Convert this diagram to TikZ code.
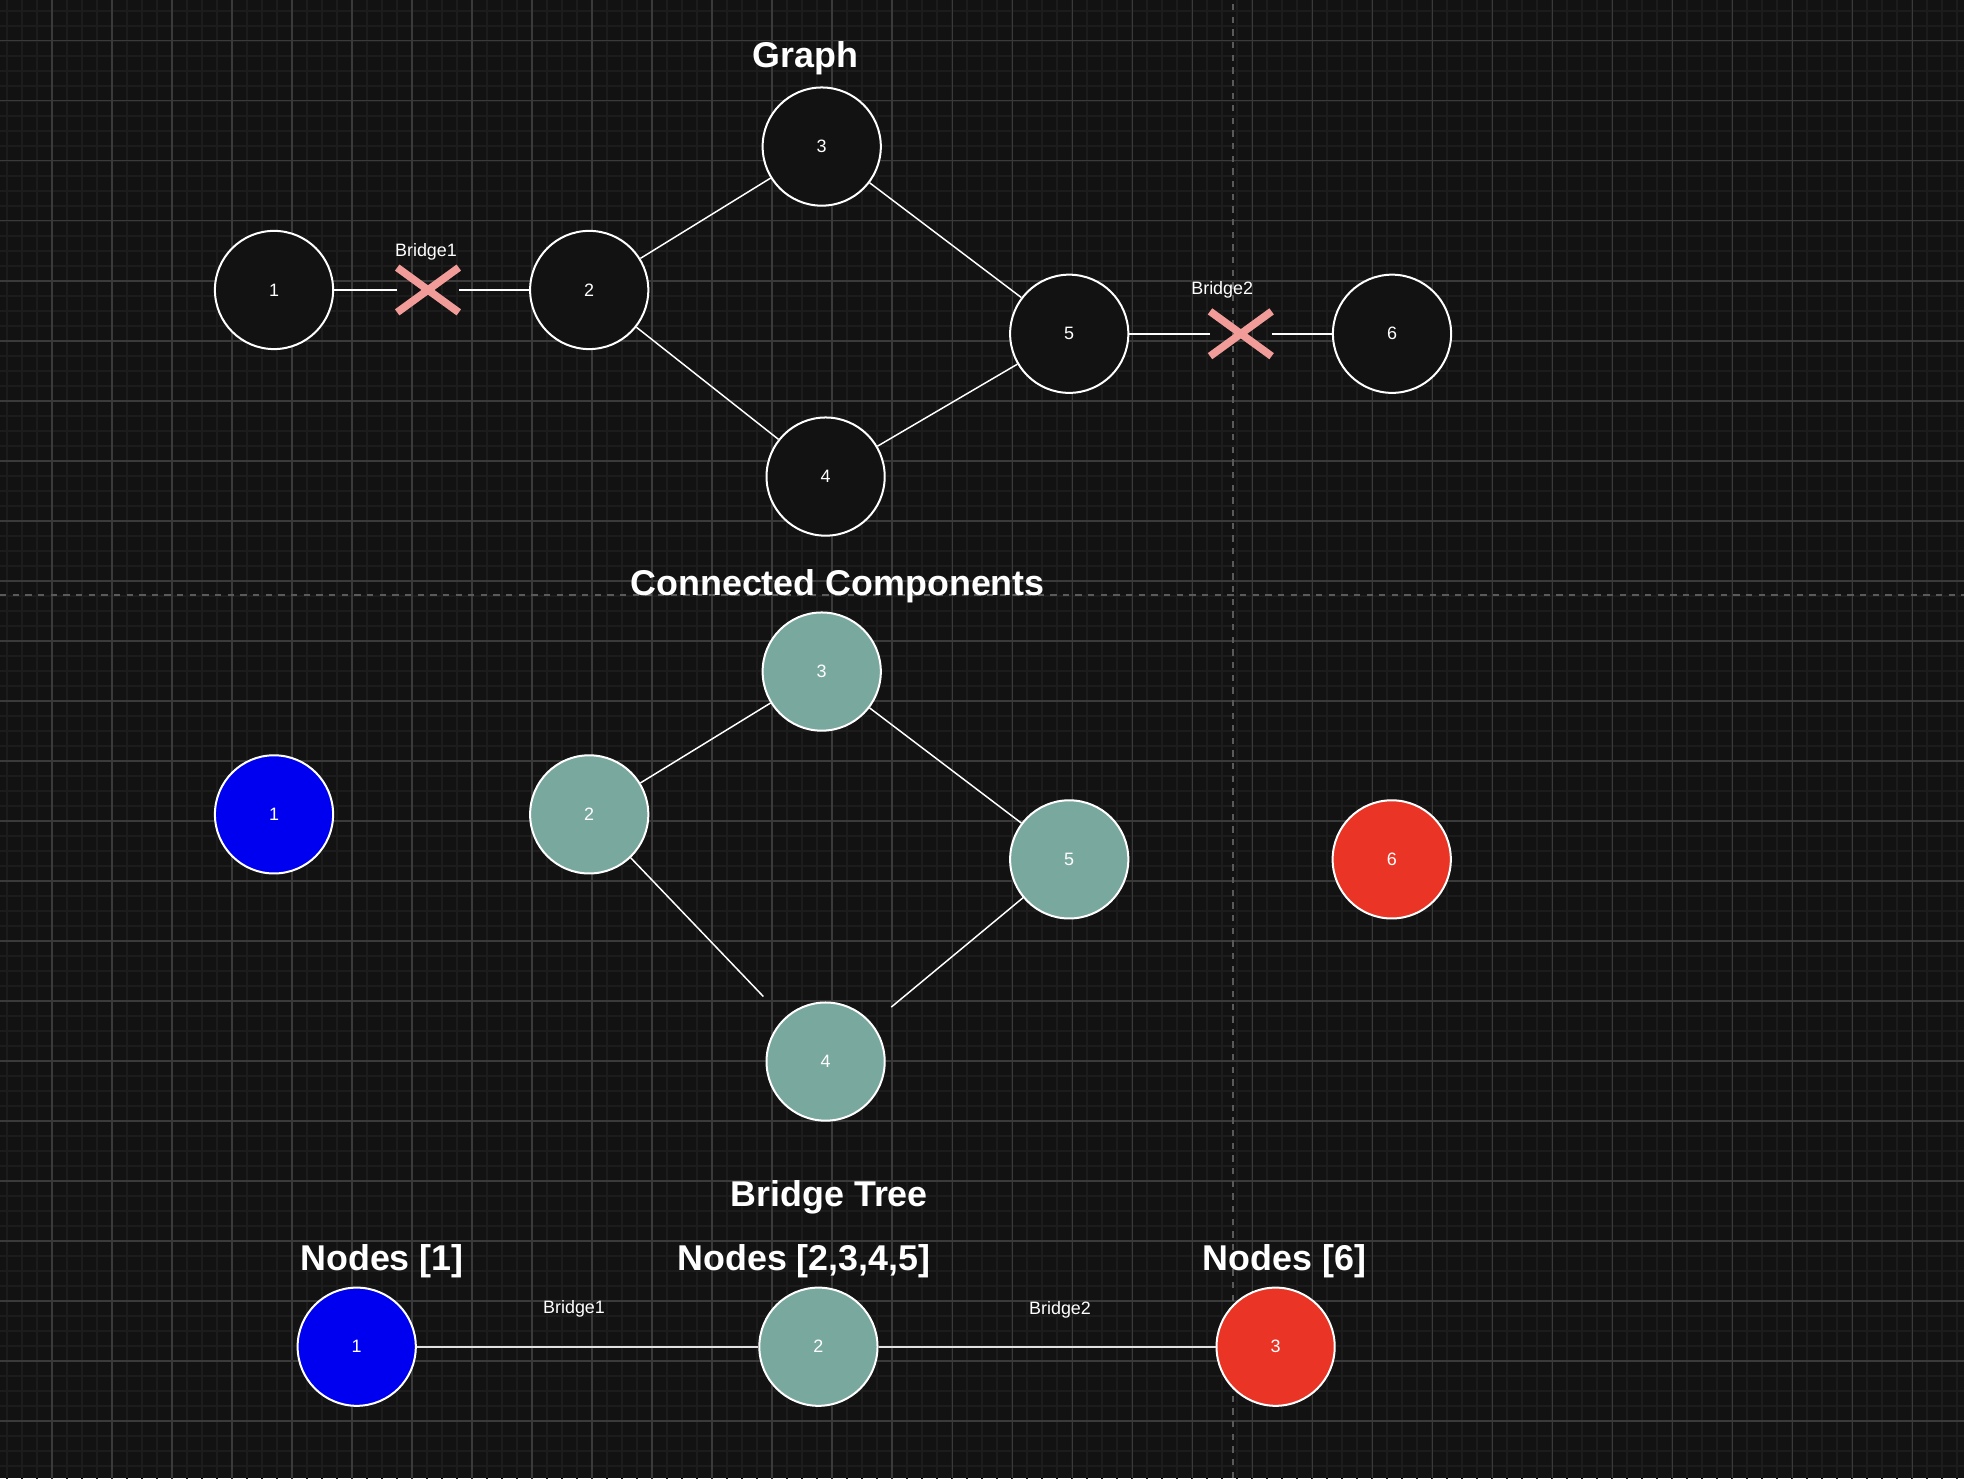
\documentclass[tikz,border=0pt]{standalone}
\usepackage{fontspec}
\setmainfont{Liberation Sans}
\usetikzlibrary{shapes.misc,positioning}
\definecolor{bgdark}{HTML}{121212}
\definecolor{gridminor}{HTML}{1C1C1C}
\definecolor{gridmajor}{HTML}{3A3A3A}
\definecolor{pagedash}{HTML}{5A5A5A}
\definecolor{crosspink}{HTML}{F19C99}
\definecolor{compblue}{HTML}{0000F0}
\definecolor{compteal}{HTML}{79A99E}
\definecolor{compred}{HTML}{EA3425}

\begin{document}
\begin{tikzpicture}[
    vert/.style={circle, draw=white, line width=0.95pt, fill=bgdark, minimum size=1.97cm,
                 inner sep=0pt, text=white, font=\fontsize{8.5}{10}\selectfont},
    cross/.style={cross out, draw=crosspink, line width=3.6pt, minimum width=0.9cm,
                  minimum height=0.62cm, inner sep=0pt},
    edge/.style={white, line width=0.7pt},
    treeedge/.style={black!12, line width=0.95pt},
    title/.style={text=white, font=\fontsize{17}{20}\selectfont\bfseries},
    lbl/.style={text=white, font=\fontsize{8.5}{10}\selectfont}
]
    \fill[bgdark] (0,0) rectangle (32.733,24.633);
    \useasboundingbox (0,0) rectangle (32.733,24.633);
    \begin{scope}
        \clip (0,0) rectangle (32.733,24.633);
        \draw[gridminor, line width=1pt, shift={(0.8667,0.95)}] (-2,-2) grid[step=0.25] (33,25);
        \draw[gridmajor, line width=0.5pt, shift={(0.8667,0.95)}] (-2,-2) grid[step=1] (33,25);
        \draw[pagedash, line width=0.7pt, dash pattern=on 3pt off 3pt] (20.55,0) -- (20.55,24.633);
        \draw[pagedash, line width=0.7pt, dash pattern=on 3pt off 3pt] (0,14.717) -- (32.733,14.717);
    \end{scope}

    \node[title] (tg) at (13.42,23.67) {Graph};
    \node[vert] (g1) at (4.567,19.80) {1};
    \node[vert] (g2) at (9.82,19.80) {2};
    \node[vert] (g3) at (13.695,22.19) {3};
    \node[vert] (g4) at (13.76,16.69) {4};
    \node[vert] (g5) at (17.82,19.07) {5};
    \node[vert] (g6) at (23.2,19.07) {6};
    \node[cross] (x1) at (7.133,19.80) {};
    \node[cross] (x2) at (20.68,19.07) {};
    \node[lbl] (b1) at (7.1,20.43) {Bridge1};
    \node[lbl] (b2) at (20.37,19.8) {Bridge2};
    \draw[edge] (g1) -- (x1);
    \draw[edge] (x1) -- (g2);
    \draw[edge] (g2) -- (g3);
    \draw[edge] (g2) -- (g4);
    \draw[edge] (g3) -- (g5);
    \draw[edge] (g4) -- (g5);
    \draw[edge] (g5) -- (x2);
    \draw[edge] (x2) -- (g6);

    \node[title] (tc) at (13.96,14.87) {Connected Components};
    \node[vert, fill=compblue] (c1) at (4.567,11.06) {1};
    \node[vert, fill=compteal] (c2) at (9.82,11.06) {2};
    \node[vert, fill=compteal] (c3) at (13.695,13.44) {3};
    \node[vert, fill=compteal] (c4) at (13.76,6.94) {4};
    \node[vert, fill=compteal] (c5) at (17.82,10.31) {5};
    \node[vert, fill=compred] (c6) at (23.195,10.31) {6};
    \draw[edge] (c2) -- (c3);
    \draw[edge] (c3) -- (c5);
    \draw[edge, shorten >=0.5cm] (c2) -- (c4);
    \draw[edge, shorten <=0.42cm] (c4) -- (c5);

    \node[title] (tt) at (13.82,4.675) {Bridge Tree};
    \node[title] (n1) at (6.367,3.62) {Nodes [1]};
    \node[title] (n2) at (13.40,3.62) {Nodes [2,3,4,5]};
    \node[title] (n3) at (21.41,3.62) {Nodes [6]};
    \node[vert, fill=compblue] (t1) at (5.945,2.188) {1};
    \node[vert, fill=compteal] (t2) at (13.64,2.188) {2};
    \node[vert, fill=compred] (t3) at (21.26,2.188) {3};
    \node[lbl] (tb1) at (9.567,2.817) {Bridge1};
    \node[lbl] (tb2) at (17.667,2.81) {Bridge2};
    \draw[treeedge] (t1) -- (t2);
    \draw[treeedge] (t2) -- (t3);
\end{tikzpicture}
\end{document}
